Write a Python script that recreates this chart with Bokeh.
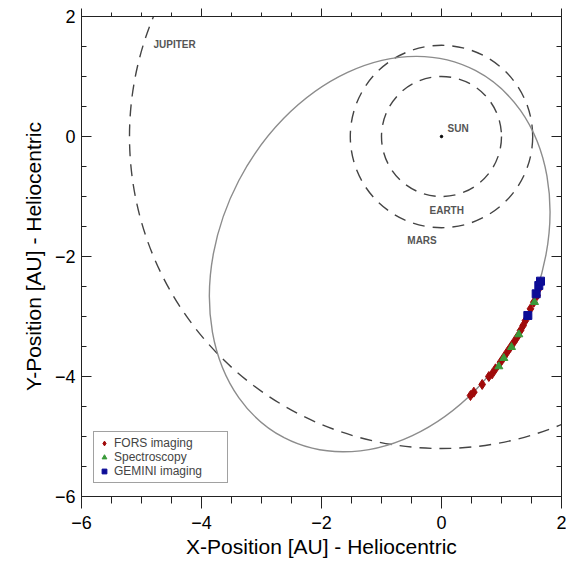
from bokeh.plotting import figure
from bokeh.models import Range1d, LinearAxis, SingleIntervalTicker, Legend, LegendItem
from bokeh.core.properties import value
from bokeh.embed import file_html
from bokeh.resources import INLINE

# ---- data ----
planet_names = ["EARTH", "MARS", "JUPITER"]
planet_radius = [1.0, 1.52, 5.2]          # AU, circular orbits round the Sun

comet_center_x = -1.03                    # comet orbit (ellipse, Sun at a focus)
comet_center_y = -1.96
comet_semi_major = 3.45
comet_semi_minor = 2.65
comet_angle_deg = 62.5

fors_x = [0.483, 0.539, 0.678, 0.789, 0.844, 0.900, 0.983, 1.039, 1.094, 1.150,
          1.206, 1.261, 1.317, 1.361, 1.400, 1.483, 1.539, 1.594, 1.622, 1.650]
fors_y = [-4.317, -4.261, -4.133, -4.000, -3.956, -3.872, -3.761, -3.678, -3.594, -3.511,
          -3.428, -3.344, -3.233, -3.150, -3.067, -2.872, -2.761, -2.650, -2.539, -2.428]
spec_x = [0.956, 1.039, 1.167, 1.289, 1.550]
spec_y = [-3.833, -3.694, -3.511, -3.300, -2.761]
gemini_x = [1.439, 1.578, 1.622, 1.650]
gemini_y = [-2.983, -2.622, -2.483, -2.411]

label_text = ["JUPITER", "SUN", "EARTH", "MARS"]
label_x = [-4.8, 0.1, -0.2, -0.57]
label_y = [1.53, 0.14, -1.24, -1.73]

sun_x = [0.0]
sun_y = [0.0]

tick_values = [-6, -4, -2, 0, 2]

# ---- figure ----
FONT = "Liberation Sans"
p = figure(width=566, height=561, x_range=Range1d(-6, 2), y_range=Range1d(-6, 2),
           output_backend="svg", toolbar_location=None,
           x_axis_type=None, y_axis_type=None,
           min_border_left=81, min_border_right=5, min_border_top=16, min_border_bottom=65)
p.outline_line_color = None
p.background_fill_color = "white"


def make_axis(**kw):
    ax = LinearAxis(ticker=SingleIntervalTicker(interval=2, num_minor_ticks=4),
                    axis_line_color="#222222", major_tick_line_color="#222222",
                    minor_tick_line_color="#222222",
                    major_label_text_font=FONT, major_label_text_font_size="18px",
                    major_label_text_color="black",
                    axis_label_text_font=FONT, axis_label_text_font_size="21px",
                    axis_label_text_font_style="normal", axis_label_text_color="black")
    for k, v in kw.items():
        setattr(ax, k, v)
    return ax


blank = {t: "" for t in tick_values}

bottom = make_axis(major_tick_in=0, major_tick_out=12, minor_tick_in=0, minor_tick_out=7,
                   major_label_standoff=7, axis_label="X-Position [AU] - Heliocentric",
                   axis_label_standoff=3)
left = make_axis(major_tick_in=10, major_tick_out=0, minor_tick_in=5, minor_tick_out=0,
                 major_label_standoff=6, axis_label="Y-Position [AU] - Heliocentric",
                 axis_label_standoff=7)
top = make_axis(major_tick_in=0, major_tick_out=8, minor_tick_in=0, minor_tick_out=4,
                major_label_text_font_size="0px", major_label_standoff=0,
                major_label_overrides=dict(blank))
right = make_axis(major_tick_in=10, major_tick_out=0, minor_tick_in=5, minor_tick_out=0,
                  major_label_text_font_size="0px", major_label_standoff=0,
                  major_label_overrides=dict(blank))
p.add_layout(bottom, "below")
p.add_layout(left, "left")
p.add_layout(top, "above")
p.add_layout(right, "right")

# planet orbits (dashed)
p.ellipse(x=[0.0] * len(planet_radius), y=[0.0] * len(planet_radius),
          width=[2 * r for r in planet_radius], height=[2 * r for r in planet_radius],
          fill_color=None, line_color="#444444", line_width=1.4, line_dash="12 8")

# comet orbit
p.ellipse(x=[comet_center_x], y=[comet_center_y],
          width=[2 * comet_semi_major], height=[2 * comet_semi_minor],
          angle=[comet_angle_deg], angle_units="deg",
          fill_color=None, line_color="#8c8c8c", line_width=1.4)

# Sun
p.scatter(sun_x, sun_y, size=2.5, color="black")

# labels
p.text(x=label_x, y=label_y, text=label_text, text_font=value(FONT),
       text_font_size="10px", text_font_style="bold", text_color="#555555",
       text_align="left", text_baseline="middle")

r_fors = p.scatter(fors_x, fors_y, marker="diamond", size=10,
                   fill_color="#a00a0a", line_color="#a00a0a")
r_spec = p.scatter(spec_x, spec_y, marker="triangle", size=8,
                   fill_color="#3a9a3a", line_color="#3a9a3a")
r_gem = p.scatter(gemini_x, gemini_y, marker="square", size=8,
                  fill_color="#0c0c96", line_color="#0c0c96")

legend = Legend(items=[LegendItem(label="FORS imaging", renderers=[r_fors]),
                       LegendItem(label="Spectroscopy", renderers=[r_spec]),
                       LegendItem(label="GEMINI imaging", renderers=[r_gem])],
                location=(12, 13), padding=4, spacing=0, margin=0,
                label_height=12, glyph_height=12, glyph_width=12, label_standoff=4,
                label_width=109,
                label_text_font=FONT, label_text_font_size="12px",
                border_line_color="#444444", border_line_width=1,
                background_fill_color="white", background_fill_alpha=1.0)
p.add_layout(legend)

open("out.html", "w").write(file_html(p, INLINE))
